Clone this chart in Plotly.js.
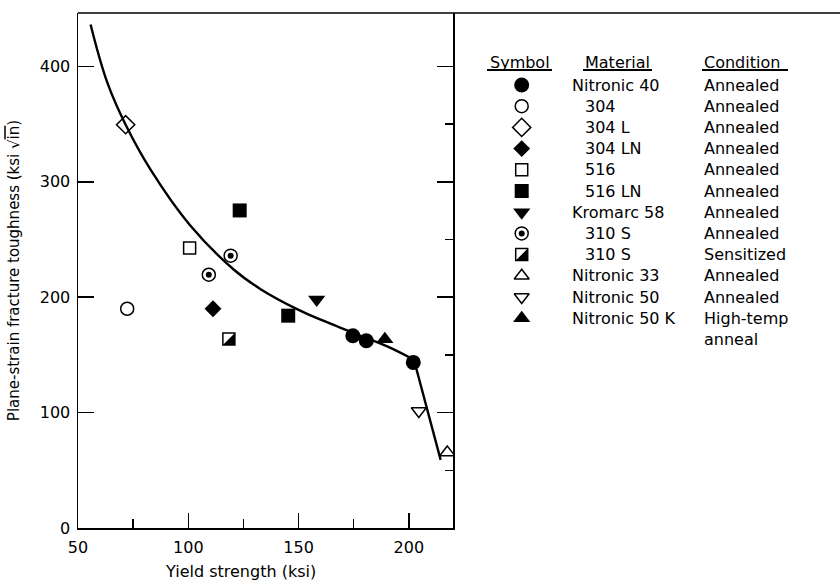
<!DOCTYPE html>
<html><head><meta charset="utf-8">
<script src="https://cdn.plot.ly/plotly-3.0.1.min.js"></script>
<style>html,body{margin:0;padding:0;background:#fff}</style>
</head><body><div id="chart" style="width:840px;height:581px"></div>
<script>
// ---------- data ----------
const materials  = ['Nitronic 40', '304', '304 L', '304 LN', '516', '516 LN', 'Kromarc 58', '310 S', '310 S', 'Nitronic 33', 'Nitronic 50', 'Nitronic 50 K'];
const conditions = ['Annealed', 'Annealed', 'Annealed', 'Annealed', 'Annealed', 'Annealed', 'Annealed', 'Annealed', 'Sensitized', 'Annealed', 'Annealed', 'High-temp<br>anneal'];
const headers = ['Symbol', 'Material', 'Condition'];

const nitronic40X = [174.6, 180.7, 202.0];  const nitronic40Y = [166.6, 162.3, 143.5];
const s304X = [72.3];                        const s304Y = [190.0];
const s304LX = [71.6];                       const s304LY = [349.5];
const s304LNX = [111.2];                     const s304LNY = [190.0];
const s516X = [100.6];                       const s516Y = [242.7];
const s516LNX = [123.3, 145.3];              const s516LNY = [275.2, 184.0];
const kromarc58X = [158.2];                  const kromarc58Y = [198.0];
const s310SAnnX = [109.3, 119.2];            const s310SAnnY = [219.5, 236.0];
const s310SSensX = [118.4];                  const s310SSensY = [163.8];
const nitronic33X = [217.4];                 const nitronic33Y = [65.5];
const nitronic50X = [204.5];                 const nitronic50Y = [101.4];
const nitronic50KX = [189.1];                const nitronic50KY = [163.6];

const fitCurveX = [55.7, 63.3, 71.6, 82.9, 100.6, 120.7, 132.8, 150.0, 160.0, 175.1, 190.2, 202.3];
const fitCurveY = [436.3, 385.9, 349.4, 310.5, 262.8, 223.8, 207.0, 189.0, 180.5, 169.0, 157.4, 145.8];
const fitTailX = [202.3, 214.4];
const fitTailY = [145.8, 59];

const xTicks = [50, 100, 150, 200];
const yTicks = [0, 100, 200, 300, 400];

// ---------- styling / layout ----------
const FONT = 'DejaVu Sans, Arial, sans-serif';
const BLACK = '#000';
const X_RANGE = [50, 220];
const Y_RANGE = [0, 446.3];
const PLOT_W = 762, PLOT_H = 515, MAIN_W = 375;   // pixels
const xDomEnd = MAIN_W / PLOT_W;
// shift (px) for the filled half of the half-filled square
const SHIFT = 2;
const dxData = SHIFT * (X_RANGE[1] - X_RANGE[0]) / MAIN_W;
const dyData = SHIFT * (Y_RANGE[1] - Y_RANGE[0]) / PLOT_H;
// legend panel axes (pixel-based x, row-based y)
const LEG_X = [453, 840];
const ROW0 = 85, ROW_H = 21.2, TOP = 13, BOTTOM = 528;
const LEG_Y = [(BOTTOM - ROW0) / ROW_H, (TOP - ROW0) / ROW_H];
const dRow = SHIFT / ROW_H;
const SYM_X = 521.7, MAT_X = 570, MAT_X_INDENT = 583, COND_X = 702;

function open(symbol, size) { return {symbol, size, color: BLACK, line: {color: BLACK, width: 1.5}}; }
function solid(symbol, size) { return {symbol, size, color: BLACK, line: {width: 0}}; }

const groups = [
  {x: nitronic40X, y: nitronic40Y, marks: [solid('circle', 15)]},
  {x: s304X, y: s304Y, marks: [open('circle-open', 13)]},
  {x: s304LX, y: s304LY, marks: [open('diamond-open', 14)]},
  {x: s304LNX, y: s304LNY, marks: [solid('diamond', 13)]},
  {x: s516X, y: s516Y, marks: [open('square-open', 12)]},
  {x: s516LNX, y: s516LNY, marks: [solid('square', 14)]},
  {x: kromarc58X, y: kromarc58Y, marks: [solid('triangle-down', 15)]},
  {x: s310SAnnX, y: s310SAnnY, marks: [open('circle-open', 13), solid('circle', 6)]},
  {x: s310SSensX, y: s310SSensY, marks: [open('square-open', 12), Object.assign(solid('triangle-se', 13.3), {shifted: true})]},
  {x: nitronic33X, y: nitronic33Y, marks: [open('triangle-up-open', 13)]},
  {x: nitronic50X, y: nitronic50Y, marks: [open('triangle-down-open', 13)]},
  {x: nitronic50KX, y: nitronic50KY, marks: [solid('triangle-up', 15)]}
];

const traces = [];
traces.push({x: fitCurveX, y: fitCurveY, mode: 'lines', line: {color: BLACK, width: 2.4, shape: 'spline', smoothing: 1.1}, hoverinfo: 'skip'});
traces.push({x: fitTailX, y: fitTailY, mode: 'lines', line: {color: BLACK, width: 2.4}, hoverinfo: 'skip'});
traces.push({x: [], y: [], xaxis: 'x', yaxis: 'y3', mode: 'markers'});

groups.forEach((g, i) => {
  g.marks.forEach(m => {
    const marker = {symbol: m.symbol, size: m.size, color: m.color, line: m.line};
    traces.push({x: g.x, y: g.y, mode: 'markers', marker: marker, name: materials[i],
      xaxis: m.shifted ? 'x4' : 'x', yaxis: m.shifted ? 'y4' : 'y'});
    traces.push({x: [SYM_X], y: [i], mode: 'markers', marker: marker, name: materials[i], hoverinfo: 'skip',
      xaxis: m.shifted ? 'x5' : 'x2', yaxis: m.shifted ? 'y5' : 'y2'});
  });
});

const annotations = [];
const txt = (text, x, y, xanchor, extra) => Object.assign({text, x, y, xref: 'x2', yref: 'y2', xanchor, yanchor: 'middle',
  align: 'left', showarrow: false, font: {family: FONT, size: 16, color: BLACK}}, extra || {});
const headRow = (62 - ROW0) / ROW_H;
annotations.push(txt(headers[0], 519.5, headRow, 'center'));
annotations.push(txt(headers[1], MAT_X_INDENT, headRow, 'left'));
annotations.push(txt(headers[2], COND_X, headRow, 'left'));
materials.forEach((m, i) => {
  annotations.push(txt(m, /^\d/.test(m) ? MAT_X_INDENT : MAT_X, i, 'left'));
  const lines = conditions[i].split('<br>').length;
  annotations.push(txt(conditions[i], COND_X, i, 'left', {yshift: -(lines - 1) * 10.4}));
});
annotations.push({text: 'Yield strength (ksi)', xref: 'paper', yref: 'paper', x: (240 - 78) / PLOT_W, y: -(571 - BOTTOM) / PLOT_H,
  xanchor: 'center', yanchor: 'middle', showarrow: false, font: {family: FONT, size: 16, color: BLACK}});

const ulRow = (70 - ROW0) / ROW_H;
const underline = (a, b) => ({type: 'line', xref: 'x2', yref: 'y2', x0: a, x1: b, y0: ulRow, y1: ulRow, line: {color: BLACK, width: 1.8}});

const hidden = {visible: false, showgrid: false, zeroline: false};
const layout = {
  width: 840, height: 581,
  margin: {l: 78, r: 0, t: 13, b: 53},
  paper_bgcolor: '#fff', plot_bgcolor: '#fff',
  showlegend: false,
  font: {family: FONT, size: 16, color: BLACK},
  xaxis: {domain: [0, xDomEnd], range: X_RANGE, anchor: 'y', tickmode: 'array', tickvals: xTicks,
    ticks: 'inside', ticklen: 15, tickwidth: 1.5, tickcolor: BLACK,
    minor: {tickmode: 'linear', tick0: 25, dtick: 25, ticks: 'inside', ticklen: 9, tickwidth: 1.5, tickcolor: BLACK, showgrid: false},
    showline: true, linecolor: BLACK, linewidth: 1.5, showgrid: false, zeroline: false,
    tickfont: {family: FONT, size: 16, color: BLACK}, ticklabelstandoff: 4},
  yaxis: {domain: [0, 1], range: Y_RANGE, anchor: 'x', tickmode: 'array', tickvals: yTicks,
    ticks: 'inside', ticklen: 16, tickwidth: 1.5, tickcolor: BLACK,
    showline: true, linecolor: BLACK, linewidth: 1.5, showgrid: false, zeroline: false,
    tickfont: {family: FONT, size: 16, color: BLACK}, ticklabelstandoff: 3,
    title: {text: 'Plane-strain fracture toughness (ksi √<span style="text-decoration:overline">in</span>)',
      font: {family: FONT, size: 15, color: BLACK}, standoff: 16}},
  yaxis3: {overlaying: 'y', anchor: 'x', side: 'right', range: Y_RANGE, tickmode: 'array', tickvals: yTicks,
    ticks: 'inside', ticklen: 16, tickwidth: 1.5, tickcolor: BLACK,
    minor: {tickmode: 'linear', tick0: 0, dtick: 50, ticks: 'inside', ticklen: 8, tickwidth: 1.5, tickcolor: BLACK, showgrid: false},
    showticklabels: false, showline: true, linecolor: BLACK, linewidth: 1.5, showgrid: false, zeroline: false},
  xaxis4: Object.assign({overlaying: 'x', anchor: 'y4', range: [X_RANGE[0] - dxData, X_RANGE[1] - dxData]}, hidden),
  yaxis4: Object.assign({overlaying: 'y', anchor: 'x4', range: [Y_RANGE[0] + dyData, Y_RANGE[1] + dyData]}, hidden),
  xaxis2: Object.assign({domain: [xDomEnd, 1], anchor: 'y2', range: LEG_X}, hidden),
  yaxis2: Object.assign({domain: [0, 1], anchor: 'x2', range: LEG_Y}, hidden),
  xaxis5: Object.assign({overlaying: 'x2', anchor: 'y5', range: [LEG_X[0] - SHIFT, LEG_X[1] - SHIFT]}, hidden),
  yaxis5: Object.assign({overlaying: 'y2', anchor: 'x5', range: [LEG_Y[0] - dRow, LEG_Y[1] - dRow]}, hidden),
  shapes: [
    {type: 'line', xref: 'paper', yref: 'paper', x0: 0, x1: 1, y0: 1, y1: 1, line: {color: BLACK, width: 1.5}},
    underline(487, 552), underline(583, 652), underline(702, 788)
  ],
  annotations: annotations
};

Plotly.newPlot('chart', traces, layout, {staticPlot: true, displayModeBar: false});
</script>
</body></html>
